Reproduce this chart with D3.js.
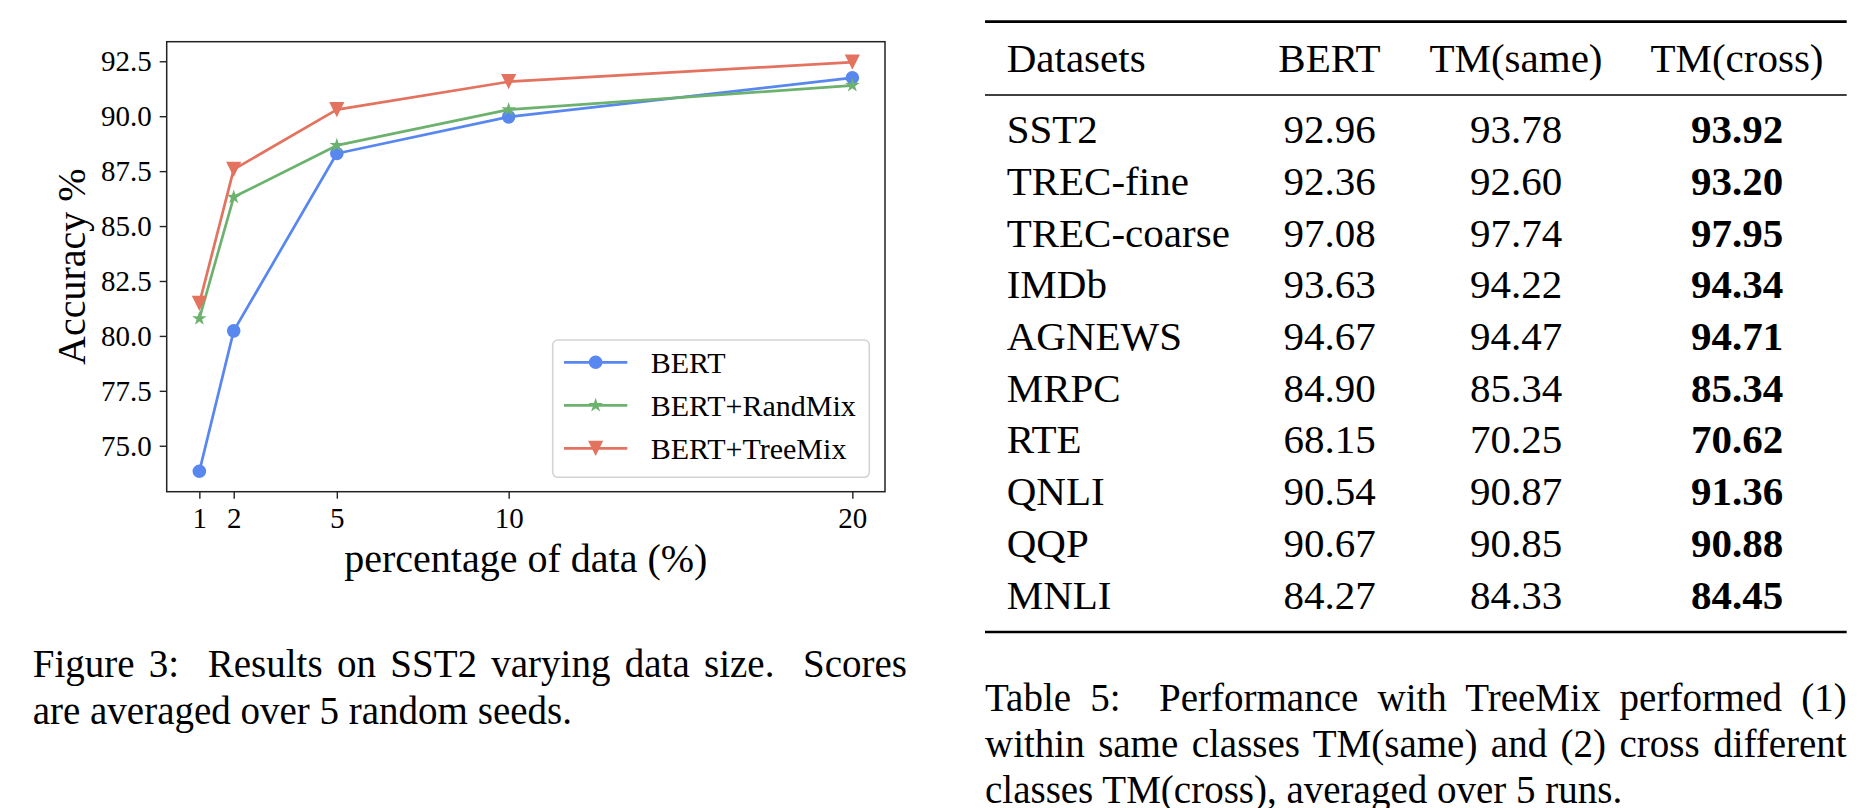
<!DOCTYPE html>
<html>
<head>
<meta charset="utf-8">
<script src="https://cdn.jsdelivr.net/npm/d3@7"></script>
<style>
  html, body { margin: 0; padding: 0; background: #fff; }
  svg { display: block; }
  text { font-family: "Liberation Serif", "Times New Roman", Times, serif; fill: #000; }
</style>
</head>
<body>
<svg id="fig" width="1860" height="808"></svg>
<script>
// ---------------- data ----------------
const xValues = [1, 2, 5, 10, 20];
const bertAcc = [73.84, 80.23, 88.30, 89.97, 91.75];
const randMixAcc = [80.79, 86.32, 88.67, 90.30, 91.40];
const treeMixAcc = [81.48, 87.58, 90.30, 91.57, 92.46];
const seriesNames = ["BERT", "BERT+RandMix", "BERT+TreeMix"];
const xTickValues = [1, 2, 5, 10, 20];
const yTickValues = [75.0, 77.5, 80.0, 82.5, 85.0, 87.5, 90.0, 92.5];
const xAxisLabel = "percentage of data (%)";
const yAxisLabel = "Accuracy %";

const tableHeaders = ["Datasets", "BERT", "TM(same)", "TM(cross)"];
const datasets = ["SST2", "TREC-fine", "TREC-coarse", "IMDb", "AGNEWS", "MRPC", "RTE", "QNLI", "QQP", "MNLI"];
const bertScores = ["92.96", "92.36", "97.08", "93.63", "94.67", "84.90", "68.15", "90.54", "90.67", "84.27"];
const tmSameScores = ["93.78", "92.60", "97.74", "94.22", "94.47", "85.34", "70.25", "90.87", "90.85", "84.33"];
const tmCrossScores = ["93.92", "93.20", "97.95", "94.34", "94.71", "85.34", "70.62", "91.36", "90.88", "84.45"];

const figCaptionLines = [
  "Figure 3:  Results on SST2 varying data size.  Scores",
  "are averaged over 5 random seeds."
];
const tableCaptionLines = [
  "Table 5:  Performance with TreeMix performed (1)",
  "within same classes TM(same) and (2) cross different",
  "classes TM(cross), averaged over 5 runs."
];

// ---------------- styles ----------------
const colors = ["#5887ef", "#6cb26e", "#e3725e"];
const svg = d3.select("#fig");
const serif = "Liberation Serif, Times New Roman, serif";

// ---------------- chart ----------------
const plot = { left: 166.7, right: 885, top: 41.7, bottom: 491.7 };
const allY = bertAcc.concat(randMixAcc, treeMixAcc);
const xe = d3.extent(xValues), ye = d3.extent(allY);
const xPad = (xe[1] - xe[0]) * 0.05, yPad = (ye[1] - ye[0]) * 0.05;
const x = d3.scaleLinear().domain([xe[0] - xPad, xe[1] + xPad]).range([plot.left, plot.right]);
const y = d3.scaleLinear().domain([ye[0] - yPad, ye[1] + yPad]).range([plot.bottom, plot.top]);

const chart = svg.append("g");

// axes
const yAxis = chart.append("g")
  .attr("transform", `translate(${plot.left},0)`)
  .call(d3.axisLeft(y).tickValues(yTickValues).tickFormat(d3.format(".1f")).tickSize(7).tickPadding(8));
const xAxis = chart.append("g")
  .attr("transform", `translate(0,${plot.bottom})`)
  .call(d3.axisBottom(x).tickValues(xTickValues).tickFormat(d3.format("d")).tickSize(7).tickPadding(9));
[xAxis, yAxis].forEach(a => {
  a.attr("font-family", serif).attr("font-size", 29);
  a.select(".domain").remove();
  a.selectAll(".tick line").attr("stroke", "#222").attr("stroke-width", 1.4);
  a.selectAll(".tick text").attr("font-size", 29).attr("font-family", serif).attr("fill", "#000");
});

// frame
chart.append("rect")
  .attr("x", plot.left).attr("y", plot.top)
  .attr("width", plot.right - plot.left).attr("height", plot.bottom - plot.top)
  .attr("fill", "none").attr("stroke", "#222").attr("stroke-width", 1.5);

// axis labels
chart.append("text")
  .attr("x", (plot.left + plot.right) / 2).attr("y", 571.5)
  .attr("text-anchor", "middle").attr("font-size", 40)
  .text(xAxisLabel);
chart.append("text")
  .attr("transform", `translate(85,${(plot.top + plot.bottom) / 2}) rotate(-90)`)
  .attr("text-anchor", "middle").attr("font-size", 40)
  .text(yAxisLabel);

// marker shapes
const markerTypes = [
  { draw(ctx, s) { const r = 6.8; ctx.moveTo(r, 0); ctx.arc(0, 0, r, 0, 2 * Math.PI); } },
  { draw(ctx, s) {
      const R = 7.6, r = R * 0.382;
      for (let i = 0; i < 10; i++) {
        const rad = i % 2 === 0 ? R : r;
        const a = -Math.PI / 2 + i * Math.PI / 5;
        const px = rad * Math.cos(a), py = rad * Math.sin(a);
        if (i === 0) ctx.moveTo(px, py); else ctx.lineTo(px, py);
      }
      ctx.closePath();
    } },
  { draw(ctx, s) { const h = 7.6; ctx.moveTo(-h, -h); ctx.lineTo(h, -h); ctx.lineTo(0, h); ctx.closePath(); } }
];

const seriesData = [bertAcc, randMixAcc, treeMixAcc];
const line = d3.line().x(d => x(d[0])).y(d => y(d[1]));
seriesData.forEach((vals, i) => {
  const pts = xValues.map((xv, j) => [xv, vals[j]]);
  const g = chart.append("g");
  g.append("path").datum(pts).attr("d", line)
    .attr("fill", "none").attr("stroke", colors[i]).attr("stroke-width", 2.7)
    .attr("stroke-linejoin", "round").attr("stroke-linecap", "square");
  g.selectAll("path.m").data(pts).join("path").attr("class", "m")
    .attr("transform", d => `translate(${x(d[0])},${y(d[1])})`)
    .attr("d", d3.symbol().type(markerTypes[i]).size(1)())
    .attr("fill", colors[i]);
});

// legend
const lg = chart.append("g");
lg.append("rect").attr("x", 552.7).attr("y", 340).attr("width", 316.6).attr("height", 137.3)
  .attr("rx", 5).attr("fill", "#fff").attr("fill-opacity", 0.8)
  .attr("stroke", "#d4d4d4").attr("stroke-width", 1.6);
const legendY = d3.scalePoint().domain(seriesNames).range([362.3, 448.3]);
seriesNames.forEach((name, i) => {
  const cy = legendY(name);
  lg.append("line").attr("x1", 564).attr("x2", 627.3).attr("y1", cy).attr("y2", cy)
    .attr("stroke", colors[i]).attr("stroke-width", 2.7);
  lg.append("path").attr("transform", `translate(${(564 + 627.3) / 2},${cy})`)
    .attr("d", d3.symbol().type(markerTypes[i]).size(1)()).attr("fill", colors[i]);
  lg.append("text").attr("x", 650.7).attr("y", cy).attr("dy", "0.35em")
    .attr("font-size", 30).text(name);
});

// ---------------- text helper (justified lines via word-spacing) ----------------
function setLine(g, str, x0, x1, yb, fs, justify) {
  const t = g.append("text").attr("x", x0).attr("y", yb).attr("font-size", fs)
    .style("white-space", "pre").text(str);
  if (justify) {
    const natural = t.node().getComputedTextLength();
    const nSpaces = (str.match(/ /g) || []).length;
    if (nSpaces > 0) t.style("word-spacing", ((x1 - x0 - natural) / nSpaces) + "px");
  }
  return t;
}

// figure caption
const capG = svg.append("g");
figCaptionLines.forEach((s, i) => {
  setLine(capG, s, 32.7, 907, 676.7 + i * 46.8, 39, i < figCaptionLines.length - 1);
});

// ---------------- table ----------------
const tg = svg.append("g");
const tLeft = 985, tRight = 1846.7;
tg.append("line").attr("x1", tLeft).attr("x2", tRight).attr("y1", 21.7).attr("y2", 21.7).attr("stroke", "#000").attr("stroke-width", 2.7);
tg.append("line").attr("x1", tLeft).attr("x2", tRight).attr("y1", 95).attr("y2", 95).attr("stroke", "#000").attr("stroke-width", 1.6);
tg.append("line").attr("x1", tLeft).attr("x2", tRight).attr("y1", 632).attr("y2", 632).attr("stroke", "#000").attr("stroke-width", 2.7);

const colCenters = [null, 1329.5, 1516, 1737];
const tfs = 41;
tableHeaders.forEach((h, i) => {
  const t = tg.append("text").attr("y", 71.7).attr("font-size", tfs).text(h);
  if (i === 0) t.attr("x", 1006.7); else t.attr("x", colCenters[i]).attr("text-anchor", "middle");
});
const rowY = d3.scaleLinear().domain([0, datasets.length - 1]).range([143.3, 608.5]);
datasets.forEach((d, r) => {
  const yy = rowY(r);
  tg.append("text").attr("x", 1006.7).attr("y", yy).attr("font-size", tfs).text(d);
  tg.append("text").attr("x", colCenters[1]).attr("y", yy).attr("text-anchor", "middle").attr("font-size", tfs).text(bertScores[r]);
  tg.append("text").attr("x", colCenters[2]).attr("y", yy).attr("text-anchor", "middle").attr("font-size", tfs).text(tmSameScores[r]);
  tg.append("text").attr("x", colCenters[3]).attr("y", yy).attr("text-anchor", "middle").attr("font-size", tfs).attr("font-weight", "bold").text(tmCrossScores[r]);
});

// table caption
tableCaptionLines.forEach((s, i) => {
  setLine(tg, s, 985, 1846.7, 711 + i * 46, 39, i < tableCaptionLines.length - 1);
});
</script>
</body>
</html>
